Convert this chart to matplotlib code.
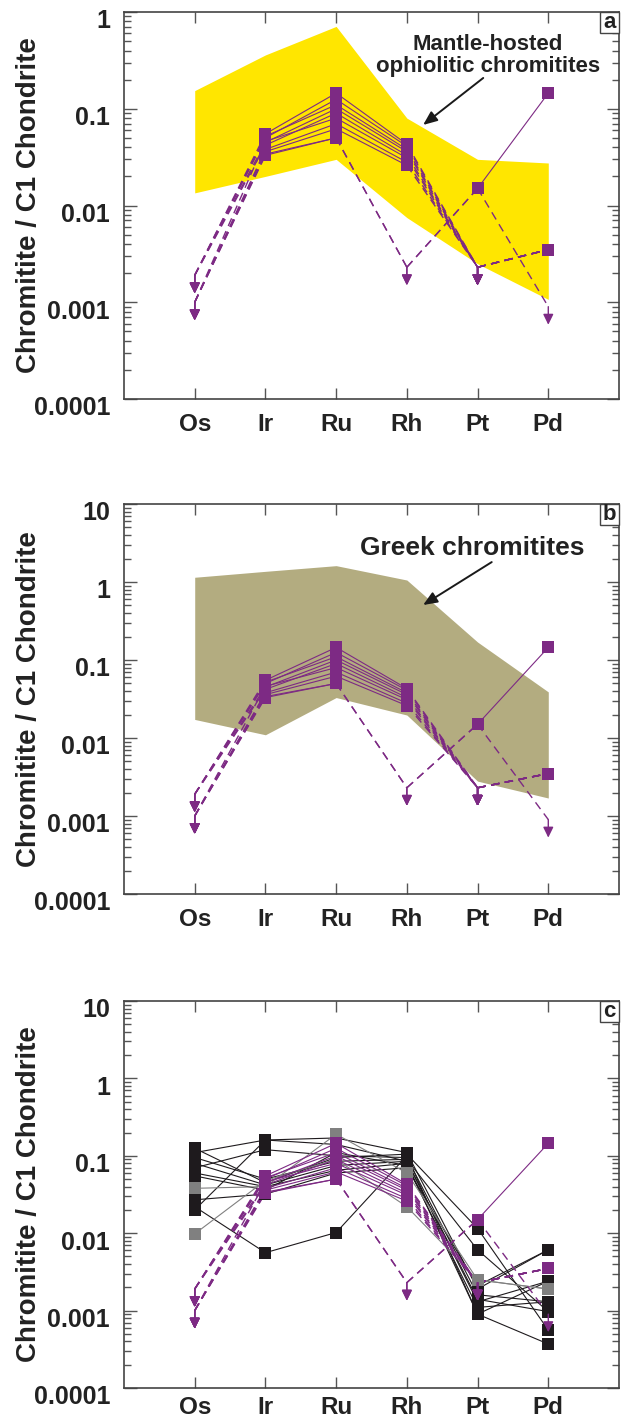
import numpy as np
import matplotlib
matplotlib.use('Agg')
import matplotlib.pyplot as plt
from matplotlib.ticker import LogLocator, NullFormatter
from matplotlib.patches import Rectangle
import matplotlib.transforms as mtransforms

plt.rcParams['font.family'] = ['Liberation Sans', 'DejaVu Sans']

elements = ['Os', 'Ir', 'Ru', 'Rh', 'Pt', 'Pd']

# envelopes (chondrite normalised)
mantle_hi = [0.154, 0.36, 0.71, 0.080, 0.030, 0.0275]
mantle_lo = [0.0135, 0.020, 0.030, 0.0075, 0.0025, 0.00107]
greek_hi = [1.15, 1.37, 1.62, 1.06, 0.17, 0.039]
greek_lo = [0.0173, 0.011, 0.033, 0.0197, 0.0028, 0.0017]

# chromitites of this study (purple)
pur_os = [0.0019, 0.0019, 0.0019, 0.0019, 0.0019, 0.001, 0.001, 0.001, 0.001, 0.001]
pur_ir = [0.055, 0.050, 0.052, 0.045, 0.042, 0.046, 0.038, 0.036, 0.034, 0.033]
pur_ru = [0.145, 0.125, 0.11, 0.10, 0.09, 0.08, 0.07, 0.062, 0.050, 0.050]
pur_rh = [0.043, 0.041, 0.038, 0.036, 0.033, 0.031, 0.028, 0.026, 0.0023, 0.0023]
pur_pt = [0.0023, 0.0023, 0.0023, 0.0023, 0.0023, 0.0023, 0.0023, 0.0023, 0.015, 0.015]
pur_pd = [0.0035, 0.0035, 0.0035, 0.0035, 0.0035, 0.0035, 0.0035, 0.0035, 0.145, 0.0009]
# below detection limit flags
pur_os_bdl = [1, 1, 1, 1, 1, 1, 1, 1, 1, 1]
pur_ir_bdl = [0, 0, 0, 0, 0, 0, 0, 0, 0, 0]
pur_ru_bdl = [0, 0, 0, 0, 0, 0, 0, 0, 0, 0]
pur_rh_bdl = [0, 0, 0, 0, 0, 0, 0, 0, 1, 1]
pur_pt_bdl = [1, 1, 1, 1, 1, 1, 1, 1, 0, 0]
pur_pd_bdl = [0, 0, 0, 0, 0, 0, 0, 0, 0, 1]

# Greek chromitites from literature (panel c)
lit_os = [0.125, 0.11, 0.095, 0.08, 0.07, 0.06, 0.055, 0.027, 0.022, 0.020, 0.038, 0.0098]
lit_ir = [0.045, 0.16, 0.05, 0.042, 0.12, 0.04, 0.036, 0.032, 0.0056, 0.16, 0.040, 0.048]
lit_ru = [0.095, 0.17, 0.085, 0.075, 0.10, 0.065, 0.11, 0.06, 0.0102, 0.14, 0.19, 0.09]
lit_rh = [0.105, 0.11, 0.09, 0.085, 0.095, 0.08, 0.075, 0.07, 0.10, 0.085, 0.06, 0.022]
lit_pt = [0.0115, 0.0019, 0.0061, 0.0013, 0.0016, 0.0009, 0.0011, 0.0021, 0.0009, 0.0014, 0.0025, 0.0025]
lit_pd = [0.00056, 0.0061, 0.00097, 0.0024, 0.0013, 0.00037, 0.0013, 0.0061, 0.0024, 0.00097, 0.0019, 0.0019]
lit_colors = ['#1e1a1d'] * 10 + ['#808080'] * 2

PURPLE = '#7d2a84'
TXT = '#222222'
SPINE = '#444444'

W, H = 625, 1423
fig = plt.figure(figsize=(W / 100, H / 100), dpi=100)


def px_axes(l, t, r, b):
    return fig.add_axes([l / W, 1 - b / H, (r - l) / W, (b - t) / H])


ax_a = px_axes(124, 12, 619, 399)
ax_b = px_axes(124, 504, 619, 894)
ax_c = px_axes(124, 1001, 619, 1388)
xpos = np.arange(1, len(elements) + 1)


def style(ax, ymin, ymax, ticks, labels, letter, xpad):
    ax.set_yscale('log')
    ax.set_xticks(xpos)
    ax.set_xticklabels(elements, fontsize=17.5, fontweight='bold', color=TXT)
    ax.set_yticks(ticks)
    ax.set_yticklabels(labels, fontsize=18, fontweight='bold', color=TXT)
    ax.yaxis.set_minor_locator(LogLocator(base=10, subs=np.arange(2, 10), numticks=30))
    ax.yaxis.set_minor_formatter(NullFormatter())
    ax.set_xlim(0, 7)
    ax.set_ylim(ymin, ymax)
    ax.tick_params(axis='x', which='both', direction='in', top=True, bottom=True,
                   length=8, width=1, color='#555555', pad=xpad)
    ax.tick_params(axis='y', which='major', direction='in', left=True, right=True,
                   length=9, width=1, color='#555555', pad=10)
    ax.tick_params(axis='y', which='minor', direction='in', left=True, right=True,
                   length=5, width=1, color='#555555')
    for sp in ax.spines.values():
        sp.set_color(SPINE)
        sp.set_linewidth(1.2)
    off = mtransforms.ScaledTranslation(0, -5 / 72, fig.dpi_scale_trans)
    for lab in ax.get_yticklabels():
        lab.set_transform(lab.get_transform() + off)
    ax.set_ylabel('Chromitite / C1 Chondrite', fontsize=20, fontweight='bold', color=TXT)
    ax.yaxis.set_label_coords(-0.165, 0.5)
    # panel letter in box at upper right corner
    bw = 19 / 495
    bh = 21 / (ax.get_position().height * H)
    ax.add_patch(Rectangle((1 - bw, 1 - bh), bw, bh, transform=ax.transAxes,
                           facecolor='white', edgecolor=SPINE, lw=1, zorder=6, clip_on=False))
    ax.text(1 - bw / 2, 1 - bh / 2, letter, transform=ax.transAxes, ha='center',
            va='center', fontsize=16, fontweight='bold', color=TXT, zorder=7)


def draw_samples(ax, vals, bdl, colors, ms, lw):
    dash = (0, (6, 4))
    for s in range(vals.shape[0]):
        c = colors[s]
        for j in range(vals.shape[1] - 1):
            v0, v1 = vals[s, j], vals[s, j + 1]
            if np.isnan(v0) or np.isnan(v1):
                continue
            dashed = bdl[s, j] or bdl[s, j + 1]
            ax.plot(xpos[j:j + 2], [v0, v1], color=c, lw=1.0 if dashed else lw,
                    ls=dash if dashed else '-', zorder=3)
    for s in range(vals.shape[0]):
        c = colors[s]
        for j in range(vals.shape[1]):
            v = vals[s, j]
            if np.isnan(v):
                continue
            if bdl[s, j]:
                ax.annotate('', xy=(xpos[j], v), xytext=(0, -13), textcoords='offset points',
                            arrowprops=dict(arrowstyle='<|-,head_length=0.45,head_width=0.22',
                                            color=c, lw=1.0, shrinkA=0, shrinkB=0,
                                            mutation_scale=14), zorder=4)
            else:
                ax.plot(xpos[j], v, 's', ms=ms, color=c, mew=0, zorder=4)


pur_vals = np.array([pur_os, pur_ir, pur_ru, pur_rh, pur_pt, pur_pd], dtype=float).T
pur_bdl = np.array([pur_os_bdl, pur_ir_bdl, pur_ru_bdl, pur_rh_bdl, pur_pt_bdl, pur_pd_bdl], dtype=bool).T
lit_vals = np.array([lit_os, lit_ir, lit_ru, lit_rh, lit_pt, lit_pd], dtype=float).T
lit_bdl = np.zeros_like(lit_vals, dtype=bool)
pur_colors = [PURPLE] * pur_vals.shape[0]

# ---- panel a
style(ax_a, 1e-4, 1, [0.0001, 0.001, 0.01, 0.1, 1], ['0.0001', '0.001', '0.01', '0.1', '1'], 'a', 10)
ax_a.fill_between(xpos, mantle_lo, mantle_hi, color='#ffe600', lw=0, zorder=1)
draw_samples(ax_a, pur_vals, pur_bdl, pur_colors, 8.5, 0.8)
ax_a.text(5.15, 0.355, 'Mantle-hosted\nophiolitic chromitites', ha='center', va='center',
          fontsize=16, fontweight='bold', color=TXT, linespacing=1.1, zorder=6)
ax_a.annotate('', xy=(4.23, 0.068), xytext=(5.08, 0.208),
              arrowprops=dict(arrowstyle='-|>,head_length=0.6,head_width=0.25', color='#1a1a1a',
                              lw=1.4, shrinkA=0, shrinkB=0, mutation_scale=14), zorder=6)

# ---- panel b
yt = [0.0001, 0.001, 0.01, 0.1, 1, 10]
yl = ['0.0001', '0.001', '0.01', '0.1', '1', '10']
style(ax_b, 1e-4, 10, yt, yl, 'b', 10)
ax_b.fill_between(xpos, greek_lo, greek_hi, color='#b3ac80', lw=0, zorder=1)
draw_samples(ax_b, pur_vals, pur_bdl, pur_colors, 8.5, 0.8)
ax_b.text(4.92, 2.73, 'Greek chromitites', ha='center', va='center',
          fontsize=19, fontweight='bold', color=TXT, zorder=6)
ax_b.annotate('', xy=(4.23, 0.507), xytext=(5.20, 1.80),
              arrowprops=dict(arrowstyle='-|>,head_length=0.6,head_width=0.25', color='#1a1a1a',
                              lw=1.4, shrinkA=0, shrinkB=0, mutation_scale=14), zorder=6)

# ---- panel c
style(ax_c, 1e-4, 10, yt, yl, 'c', 6)
draw_samples(ax_c, lit_vals, lit_bdl, lit_colors, 8, 0.8)
draw_samples(ax_c, pur_vals, pur_bdl, pur_colors, 8.5, 0.8)

fig.savefig('out.png', dpi=100)
